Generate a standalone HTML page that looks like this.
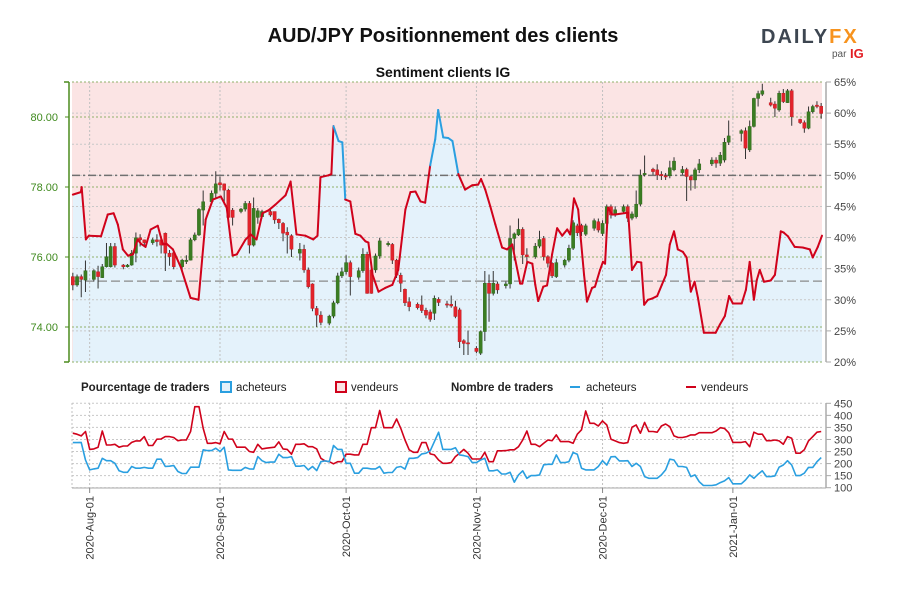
<!DOCTYPE html>
<html><head><meta charset="utf-8"><style>
html,body{margin:0;padding:0;background:#fff;}
svg{display:block;font-family:"Liberation Sans",sans-serif;}
</style></head><body>
<svg id="chart" width="900" height="600" viewBox="0 0 900 600" xmlns="http://www.w3.org/2000/svg">
<text x="443" y="42" text-anchor="middle" font-size="20" font-weight="bold" fill="#111">AUD/JPY Positionnement des clients</text>
<g>
<text x="761" y="43" font-size="20" font-weight="bold" letter-spacing="2" fill="#3d4651">DAILY<tspan fill="#f7931e">FX</tspan></text>
<text x="832" y="57" font-size="10" fill="#555">par</text>
<text x="850" y="58" font-size="13" font-weight="bold" fill="#e31e24">IG</text>
</g>
<text x="443" y="77" text-anchor="middle" font-size="14" font-weight="bold" fill="#111">Sentiment clients IG</text>
<g id="topPanel"></g>
<g id="bottomPanel"></g>
<g>
<text x="81" y="391" font-size="11.5" font-weight="bold" fill="#222">Pourcentage de traders</text>
<rect x="221" y="382" width="10" height="10" fill="#e3f1fa" stroke="#2a9fe0" stroke-width="2"/>
<text x="236" y="391" font-size="11.5" fill="#222">acheteurs</text>
<rect x="336" y="382" width="10" height="10" fill="#fbe3e3" stroke="#d0021b" stroke-width="2"/>
<text x="351" y="391" font-size="11.5" fill="#222">vendeurs</text>
<text x="451" y="391" font-size="11.5" font-weight="bold" fill="#222">Nombre de traders</text>
<line x1="570" y1="387" x2="580" y2="387" stroke="#2a9fe0" stroke-width="2"/>
<text x="586" y="391" font-size="11.5" fill="#222">acheteurs</text>
<line x1="686" y1="387" x2="696" y2="387" stroke="#d0021b" stroke-width="2"/>
<text x="701" y="391" font-size="11.5" fill="#222">vendeurs</text>
</g>
</svg>
<script>
const monthLabels = ["2020-Aug-01","2020-Sep-01","2020-Oct-01","2020-Nov-01","2020-Dec-01","2021-Jan-01"];
const monthDays = [4,35,65,96,126,157];
const priceTicks = [74,76,78,80];
const pctTicks = [20,25,30,35,40,45,50,55,60,65];
const countTicks = [100,150,200,250,300,350,400,450];
const sentDay = [0,1.9,2.1,3.1,3.8,6.7,8.3,9.7,10.7,11.9,13.1,14.3,15.4,16.2,17.3,18.5,20.2,21.4,22.3,23.8,25.7,28.0,29.9,31.6,33.3,35.2,36.6,38.0,39.0,41.1,42.3,43.7,45.1,46.6,48.2,50.6,51.8,53.2,55.3,57.2,58.2,58.9,60.8,61.5,62.0,63.2,64.1,64.8,66.0,67.2,68.4,69.6,70.3,71.3,72.7,74.3,76.0,77.4,79.1,80.3,81.5,82.7,83.8,85.0,86.2,86.9,88.1,89.3,90.3,91.7,92.2,93.3,95.0,96.4,97.1,98.1,99.3,100.5,102.1,103.3,104.5,106.4,106.9,108.1,109.3,110.0,110.7,111.9,112.8,114.0,115.2,116.4,117.6,118.3,119.2,120.2,121.6,122.3,123.5,124.2,125.4,126.1,126.6,127.3,128.3,129.0,132.1,133.0,134.2,135.2,135.9,136.8,137.8,139.0,140.1,141.1,142.0,143.0,143.9,145.1,146.0,147.0,147.9,148.7,150.1,152.9,153.9,155.1,156.1,157.0,159.1,160.1,161.0,162.0,162.7,163.4,164.4,166.0,167.0,168.4,169.1,170.1,171.7,173.6,175.3,176.0,177.2,178.2];
const sentPct = [46.9,47.3,48.1,39.7,40.3,40.2,43.7,43.9,42.1,38.1,37.1,37.3,39.7,39.0,38.5,41.3,41.9,38.9,39.0,38.1,35.2,30.3,30.0,42.9,46.1,46.6,44.8,37.1,37.3,39.7,40.5,39.7,43.9,44.4,45.3,46.8,49.0,40.5,40.3,39.7,40.3,49.7,50.0,50.2,57.9,55.5,55.3,46.1,45.8,40.6,40.3,39.4,39.2,34.0,31.3,31.9,32.4,34.8,44.5,47.3,47.4,45.8,45.6,51.6,55.8,60.5,56.1,56.0,55.5,50.2,49.4,47.7,48.4,48.5,49.4,47.7,45.0,42.1,38.4,38.1,38.9,32.6,32.6,36.1,35.8,32.4,29.8,32.1,32.3,37.3,41.5,40.3,41.3,40.5,46.3,44.5,34.0,29.7,31.9,32.1,34.8,36.1,35.8,44.8,43.7,43.7,44.0,34.8,36.1,36.0,29.2,30.0,30.2,30.6,32.4,34.0,38.9,41.0,38.1,37.7,36.8,31.3,32.9,30.3,24.7,24.7,26.0,27.4,30.6,29.4,29.4,31.6,36.1,30.0,33.2,34.8,32.9,33.1,34.0,41.0,40.8,40.2,38.5,38.4,38.1,36.8,38.5,40.3];
const candleDay = [0,1,2,3,5,6,7,8,9,10,12,13,14,15,16,17,19,20,21,22,23,24,26,27,28,29,30,31,33,34,35,36,37,38,40,41,42,43,44,45,47,48,49,50,51,52,54,55,56,57,58,59,61,62,63,64,65,66,68,69,70,71,72,73,75,76,77,78,79,80,82,83,84,85,86,87,89,90,91,92,93,94,96,97,98,99,100,101,103,104,105,106,107,108,110,111,112,113,114,115,117,118,119,120,121,122,124,125,126,127,128,129,131,132,133,134,135,136,138,139,140,141,142,143,145,146,147,148,149,152,153,154,155,156,159,160,161,162,163,164,166,167,168,169,170,171,173,174,175,176,177,178];
const candleOpen = [75.44,75.20,75.44,75.34,75.36,75.58,75.41,75.72,75.72,76.30,75.77,75.72,75.77,76.11,76.55,76.49,76.41,76.49,76.49,76.68,76.11,76.12,75.72,75.87,75.91,76.49,76.63,77.34,77.58,77.82,78.12,78.09,77.91,77.34,77.30,77.37,77.53,76.34,77.13,77.15,77.30,77.30,77.08,76.96,76.71,76.61,76.11,76.22,75.63,75.23,74.53,74.34,74.11,74.31,74.69,75.46,75.58,75.84,75.42,75.61,76.08,75.63,75.63,76.03,76.35,76.36,75.91,75.48,75.08,74.72,74.65,74.63,74.48,74.43,74.39,74.79,74.66,74.65,74.58,74.49,73.61,73.55,73.39,73.25,73.87,75.25,74.96,75.23,75.18,75.23,76.53,76.63,76.79,76.06,76.01,76.31,76.53,76.01,75.82,75.44,75.77,75.91,76.25,76.89,76.90,76.65,76.82,77.01,76.67,76.96,77.44,77.20,77.30,77.44,77.11,77.15,77.51,78.35,78.51,78.49,78.36,78.32,78.32,78.49,78.41,78.50,78.30,78.20,78.49,78.66,78.77,78.68,78.77,79.28,79.53,79.61,79.06,79.73,80.53,80.65,80.41,80.37,80.20,80.68,80.41,80.75,79.93,79.84,79.68,80.15,80.34,80.31];
const candleClose = [75.20,75.44,75.36,75.61,75.61,75.44,75.72,76.01,76.30,75.77,75.72,75.77,76.11,76.55,76.49,76.41,76.49,76.44,76.34,76.11,76.01,75.72,75.91,75.91,76.49,76.63,77.36,77.58,77.82,78.09,78.06,77.91,77.13,77.13,77.37,77.53,76.34,77.39,77.32,77.30,77.20,77.06,76.98,76.68,76.63,76.22,76.22,75.63,75.15,74.53,74.34,74.13,74.31,74.69,75.46,75.58,75.84,75.44,75.61,76.08,74.96,74.96,76.03,76.46,76.39,75.91,75.48,75.25,74.69,74.58,74.55,74.47,74.34,74.22,74.82,74.70,74.63,74.60,74.30,73.58,73.53,73.52,73.30,73.87,75.25,74.96,75.25,75.06,75.23,76.53,76.66,76.79,76.06,76.01,76.31,76.50,76.01,75.82,75.46,75.84,75.91,76.25,76.98,76.69,76.72,76.89,77.04,76.77,76.96,77.44,77.20,77.35,77.44,77.11,77.23,77.51,78.34,78.39,78.44,78.34,78.32,78.30,78.55,78.74,78.50,78.30,78.20,78.49,78.66,78.77,78.68,78.91,79.28,79.46,79.61,79.11,79.73,80.53,80.67,80.75,80.34,80.25,80.68,80.44,80.75,80.01,79.84,79.68,80.15,80.30,80.30,80.10];
const candleHigh = [75.55,75.5,75.5,75.9,75.65,75.75,75.8,76.4,76.4,76.4,75.8,75.8,76.2,76.7,76.65,76.5,76.55,76.65,76.6,76.7,76.2,76.15,75.95,76.05,76.55,76.7,77.4,77.9,77.9,78.45,78.3,78.1,77.95,77.4,77.4,77.6,77.6,77.7,77.4,77.35,77.35,77.3,77.1,77.0,76.85,76.65,76.4,76.35,75.7,75.25,74.6,74.45,74.35,74.75,75.55,75.7,76.05,75.9,75.7,76.25,76.15,75.75,76.1,76.55,76.45,76.4,75.95,75.55,75.1,74.85,74.7,74.9,74.55,74.5,74.9,74.85,74.75,74.9,74.75,74.55,73.65,73.9,73.45,73.9,75.6,75.5,75.6,75.3,75.3,76.9,76.7,77.1,76.85,76.25,76.4,76.75,76.6,76.05,75.85,75.95,75.95,76.35,77.05,76.95,76.95,76.95,77.1,77.1,77.05,77.5,77.5,77.45,77.5,77.5,77.3,77.9,78.5,78.9,78.55,78.65,78.45,78.4,78.75,78.85,78.6,78.55,78.35,78.55,78.8,78.85,78.85,79.0,79.4,79.9,79.65,79.7,79.9,80.55,80.75,80.95,80.55,80.45,80.75,80.8,80.8,80.8,79.95,79.9,80.3,80.35,80.45,80.4];
const candleLow = [75.05,75.15,74.85,75.0,75.3,75.1,75.4,75.7,75.7,75.7,75.65,75.7,75.75,75.85,76.3,76.3,76.35,76.3,76.1,75.6,75.75,75.65,75.6,75.8,75.9,76.45,76.6,76.9,77.5,77.7,77.9,77.5,77.0,76.9,77.25,77.3,76.1,76.3,76.95,77.1,77.15,76.95,76.8,76.45,76.1,76.0,75.9,75.55,75.1,74.45,74.0,74.05,74.05,74.25,74.65,75.4,75.5,74.9,75.35,75.55,74.95,74.95,75.55,75.95,76.3,75.8,75.4,75.0,74.6,74.45,74.5,74.4,74.25,74.15,74.2,74.6,74.55,74.55,74.25,73.4,73.2,73.2,73.25,73.2,73.6,74.15,74.9,74.95,75.1,75.1,75.9,76.6,75.8,75.85,75.95,76.25,75.9,75.7,75.4,75.4,75.7,75.85,76.2,76.6,76.6,76.6,76.75,76.7,76.6,76.9,77.1,77.15,77.25,77.0,77.05,77.1,77.45,78.3,78.35,78.2,78.2,78.2,78.25,78.45,78.35,77.6,77.9,77.95,78.4,78.6,78.55,78.6,78.7,79.2,79.3,78.8,79.0,79.7,80.3,80.6,80.3,80.0,80.15,80.4,80.4,79.75,79.8,79.55,79.65,80.1,80.25,79.95];
const buyersCount = [287,287,288,215,174,178,181,222,212,212,201,170,164,164,188,181,181,184,181,181,218,218,188,189,192,167,159,159,185,185,185,257,254,254,264,250,268,174,172,172,172,184,178,177,229,212,204,206,206,239,225,225,229,189,189,192,174,188,171,208,211,208,
275,259,259,201,201,160,160,181,181,178,178,188,160,163,163,184,188,177,222,222,225,240,243,253,291,330,259,259,259,266,236,233,229,204,204,215,222,170,170,174,157,157,164,123,153,170,139,150,150,153,195,197,197,236,204,204,208,246,239,
181,174,174,174,188,212,194,228,229,211,211,212,188,201,188,146,139,139,139,153,174,218,215,188,188,184,146,153,125,109,109,109,112,121,128,142,116,116,116,132,153,139,156,170,146,146,149,185,194,212,194,150,150,160,184,184,208,225];
const sellersCount = [326,322,315,333,259,261,268,335,277,277,280,268,273,273,288,294,294,312,275,275,301,302,312,312,308,295,298,298,333,436,436,346,284,284,287,282,333,302,301,268,268,268,250,247,280,261,264,266,268,290,261,259,239,280,280,282,270,270,261,222,211,208,
199,208,208,239,239,236,236,280,280,349,349,420,349,349,349,385,346,298,257,247,247,287,287,240,236,215,201,201,204,229,243,259,243,219,219,219,247,208,208,253,253,254,257,257,270,298,335,280,280,270,284,298,295,319,291,291,291,284,322,
340,418,367,367,356,377,360,301,294,287,284,287,351,360,326,371,333,333,330,356,364,353,315,308,308,312,319,319,328,328,328,328,335,349,346,328,288,288,288,291,270,330,322,322,295,295,298,294,280,312,305,243,243,257,294,312,330,333];

const NS = "http://www.w3.org/2000/svg";
const X0 = 72, X1 = 822, D0 = -0.2, D1 = 178.2;
function xDay(d){ return X0 + (d - D0) * (X1 - X0) / (D1 - D0); }
function yPrice(p){ return 82 + (81 - p) * 35; }
function yPct(p){ return 82 + (65 - p) * 280 / 45; }
function yCnt(v){ return 403.3 + (450 - v) * 84.4 / 350; }
function mk(tag, attrs, parent){ const e = document.createElementNS(NS, tag); for (const k in attrs) e.setAttribute(k, attrs[k]); parent.appendChild(e); return e; }

const topG = document.getElementById("topPanel");
const botG = document.getElementById("bottomPanel");

const bg = mk("rect", {x:X0, y:82, width:X1-X0, height:280, fill:"#fbe4e4"}, topG);


let fillPts = [];
for (let i = 0; i < sentDay.length; i++) fillPts.push(xDay(sentDay[i]).toFixed(1) + "," + yPct(sentPct[i]).toFixed(1));
const blueFill = mk("polygon", {points: xDay(sentDay[0]).toFixed(1) + ",362 " + fillPts.join(" ") + " " + xDay(sentDay[sentDay.length-1]).toFixed(1) + ",362", fill:"#e4f2fb"}, topG);



for (const p of pctTicks) {
  if (p === 20 || p === 65) continue;
  const g = mk("line", {x1:X0, x2:X1, y1:yPct(p), y2:yPct(p), stroke:"#c8c8c8", "stroke-width":1, "stroke-dasharray":"2,2"}, topG);
  
  
}
for (const p of priceTicks) {
  const g = mk("line", {x1:X0, x2:X1, y1:yPrice(p), y2:yPrice(p), stroke:"#8fb06a", "stroke-width":1, "stroke-dasharray":"2,2"}, topG);
  
  
}
for (const yy of [82, 362]) {
  const g = mk("line", {x1:X0, x2:X1, y1:yy, y2:yy, stroke:"#8fb06a", "stroke-width":1, "stroke-dasharray":"2,2"}, topG);
  
  
}
for (const d of monthDays) {
  const g = mk("line", {x1:xDay(d), x2:xDay(d), y1:82, y2:362, stroke:"#c0c0c0", "stroke-width":1, "stroke-dasharray":"2,2"}, topG);
  
  
  const g2 = mk("line", {x1:xDay(d), x2:xDay(d), y1:403, y2:488, stroke:"#c0c0c0", "stroke-width":1, "stroke-dasharray":"2,2"}, botG);
  
  
}
const l50 = mk("line", {x1:X0, x2:X1, y1:yPct(50), y2:yPct(50), stroke:"#707070", "stroke-width":1.5, "stroke-dasharray":"8,3,2,3"}, topG);


const l33 = mk("line", {x1:X0, x2:X1, y1:yPct(33), y2:yPct(33), stroke:"#8a8a8a", "stroke-width":1.2, "stroke-dasharray":"9,4"}, topG);



for (let i = 0; i < candleDay.length; i++) {
  const x = xDay(candleDay[i]);
  const o = candleOpen[i], c = candleClose[i];
  const up = c >= o;
  const w = mk("line", {x1:x, x2:x, y1:yPrice(candleHigh[i]), y2:yPrice(candleLow[i]), stroke:"#333", "stroke-width":1}, topG);
  
  
  const yt = yPrice(Math.max(o,c)), yb = yPrice(Math.min(o,c));
  const b = mk("rect", {x:x-1.6, y:yt, width:3.2, height:Math.max(1.2, yb-yt), fill: up ? "#3a7d22" : "#e3232b", stroke: up ? "#2d6118" : "#b51a20", "stroke-width":0.4}, topG);
  
  
}

for (let i = 0; i < sentDay.length - 1; i++) {
  const s = mk("line", {x1:xDay(sentDay[i]), y1:yPct(sentPct[i]), x2:xDay(sentDay[i+1]), y2:yPct(sentPct[i+1]), stroke: sentPct[i] > 50.5 ? "#2a9fe0" : "#d0021b", "stroke-width":2, "stroke-linecap":"round"}, topG);
  
  
}

const la = mk("line", {x1:69, x2:69, y1:82, y2:362, stroke:"#4b8b1e", "stroke-width":1.5}, topG);


for (const yy of [82, 362]) mk("line", {x1:64, x2:69, y1:yy, y2:yy, stroke:"#4b8b1e", "stroke-width":1.5}, topG);
for (const p of priceTicks) {
  mk("line", {x1:65, x2:69, y1:yPrice(p), y2:yPrice(p), stroke:"#4b8b1e", "stroke-width":1}, topG);
  const t = mk("text", {x:58, y:yPrice(p)+4, "text-anchor":"end", "font-size":11, fill:"#3f8a1e"}, topG);
  
  
  t.textContent = p.toFixed(2);
}
const ra = mk("line", {x1:826, x2:826, y1:82, y2:362, stroke:"#aaa", "stroke-width":1.5}, topG);


for (const p of pctTicks) {
  mk("line", {x1:826, x2:831, y1:yPct(p), y2:yPct(p), stroke:"#aaa", "stroke-width":1}, topG);
  const t = mk("text", {x:834, y:yPct(p)+4, "font-size":11, fill:"#444"}, topG);
  
  
  t.textContent = p + "%";
}

for (const v of countTicks) {
  const g = mk("line", {x1:X0, x2:X1, y1:yCnt(v), y2:yCnt(v), stroke:"#c8c8c8", "stroke-width":1, "stroke-dasharray":"2,2"}, botG);
  
  
}
mk("line", {x1:X0, x2:X0, y1:403, y2:488, stroke:"#c0c0c0", "stroke-width":1, "stroke-dasharray":"2,2"}, botG);
function series(vals, color, name){
  const pts = vals.map((v,i) => xDay(i).toFixed(1) + "," + yCnt(v).toFixed(1)).join(" ");
  const p = mk("polyline", {points:pts, fill:"none", stroke:color, "stroke-width":1.6, "stroke-linejoin":"round"}, botG);
  
  
}
series(sellersCount, "#d0021b", "sellers-count-line");
series(buyersCount, "#2a9fe0", "buyers-count-line");
const rb = mk("line", {x1:826, x2:826, y1:403, y2:488, stroke:"#aaa", "stroke-width":1.5}, botG);


for (const v of countTicks) {
  mk("line", {x1:826, x2:831, y1:yCnt(v), y2:yCnt(v), stroke:"#aaa", "stroke-width":1}, botG);
  const t = mk("text", {x:834, y:yCnt(v)+4, "font-size":11, fill:"#444"}, botG);
  
  
  t.textContent = v;
}
const bx = mk("line", {x1:X0, x2:826, y1:488, y2:488, stroke:"#aaa", "stroke-width":1}, botG);


for (let i = 0; i < monthDays.length; i++) {
  const x = xDay(monthDays[i]);
  mk("line", {x1:x, x2:x, y1:488, y2:493, stroke:"#888", "stroke-width":1}, botG);
  const t = mk("text", {x:0, y:0, "font-size":11, fill:"#333", "text-anchor":"end", transform:"translate(" + (x+4).toFixed(1) + ",496) rotate(-90)"}, botG);
  
  
  t.textContent = monthLabels[i];
}
</script>
</body></html>
